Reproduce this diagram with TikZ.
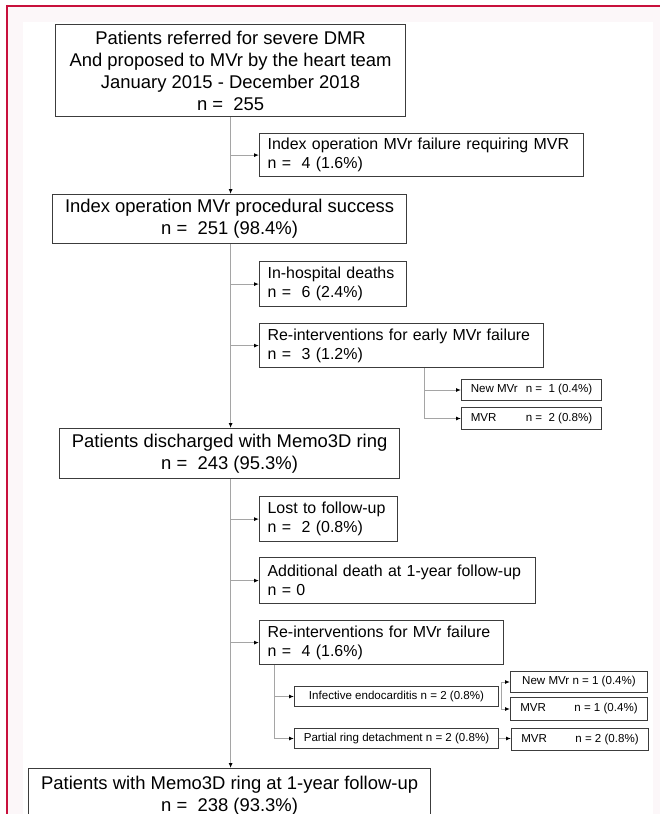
\documentclass[tikz,border=0pt]{standalone}
\usepackage{fontspec}
\setmainfont{Liberation Sans}
\usetikzlibrary{arrows.meta,calc}
\definecolor{framered}{RGB}{200,16,60}
\definecolor{bgpink}{RGB}{252,247,249}
\definecolor{boxgray}{RGB}{60,60,60}
\definecolor{linegray}{RGB}{165,165,165}
\begin{document}
\begin{tikzpicture}[x=1bp,y=-1bp,
  bigbox/.style={draw=boxgray, line width=1.2bp, anchor=north west, inner sep=0pt, align=center, font=\fontsize{18.5}{22}\selectfont},
  medbox/.style={draw=boxgray, line width=1.2bp, anchor=north west, inner xsep=8bp, inner ysep=0pt, align=left, font=\fontsize{16}{19}\selectfont},
  smallbox/.style={draw=boxgray, line width=1bp, anchor=north west, inner xsep=0pt, inner ysep=0pt, align=center, font=\fontsize{11.6}{14}\selectfont},
  conn/.style={draw=linegray, line width=1bp},
  arr/.style={conn, -{Latex[length=5bp,width=4bp,color=black]}}]
\useasboundingbox (0,0) rectangle (660,814);
\clip (0,0) rectangle (660,814);
% background and frame
\fill[white] (0,0) rectangle (660,814);
\fill[bgpink] (7,6) rectangle (660,814);
\fill[white] (23,22) rectangle (653,814);
\draw[framered, line width=2bp] (6.4,6) -- (660,6);
\draw[framered, line width=1.3bp] (7,5) -- (7,814);
% main boxes
\node[bigbox, minimum width=350bp, minimum height=92bp] (b1) at (55,24)
  {Patients referred for severe DMR\\And proposed to MVr by the heart team\\January 2015 - December 2018\\n =\ \ 255};
\node[medbox, minimum height=43bp, text width=308bp] (b2) at (259,133)
  {Index operation MVr failure requiring MVR\\n =\ \ 4 (1.6\%)};
\node[bigbox, minimum width=354bp, minimum height=49bp] (b3) at (52,194)
  {Index operation MVr procedural success\\n =\ \ 251 (98.4\%)};
\node[medbox, minimum height=45bp, text width=131bp] (b4) at (259,261)
  {In-hospital deaths\\n =\ \ 6 (2.4\%)};
\node[medbox, minimum height=44bp, text width=268bp] (b5) at (259,323)
  {Re-interventions for early MVr failure\\n =\ \ 3 (1.2\%)};
\node[smallbox, minimum width=140bp, minimum height=21bp] (nm1) at (461,379)
  {\makebox[55bp][l]{New MVr}n =\ \ 1 (0.4\%)};
\node[smallbox, minimum width=140bp, minimum height=22bp] (mvr1) at (461,407)
  {\makebox[55bp][l]{MVR}n =\ \ 2 (0.8\%)};
\node[bigbox, minimum width=340bp, minimum height=50bp] (b6) at (59,428)
  {Patients discharged with Memo3D ring\\n =\ \ 243 (95.3\%)};
\node[medbox, minimum height=45bp, text width=122bp] (b7) at (259,496)
  {Lost to follow-up\\n =\ \ 2 (0.8\%)};
\node[medbox, minimum height=46bp, text width=260bp] (b8) at (259,557)
  {Additional death at 1-year follow-up\\n = 0};
\node[medbox, minimum height=44bp, text width=228bp] (b9) at (259,620)
  {Re-interventions for MVr failure\\n =\ \ 4 (1.6\%)};
\node[smallbox, minimum width=204bp, minimum height=20bp] (inf) at (294,686)
  {Infective endocarditis n = 2 (0.8\%)};
\node[smallbox, minimum width=204bp, minimum height=20bp] (par) at (294,728)
  {Partial ring detachment n = 2 (0.8\%)};
\node[smallbox, minimum width=137bp, minimum height=21bp] (nm2) at (510,671)
  {New MVr n = 1 (0.4\%)};
\node[smallbox, minimum width=137bp, minimum height=23bp] (mvr2) at (510,697)
  {\makebox[54bp][l]{MVR}n = 1 (0.4\%)};
\node[smallbox, minimum width=137bp, minimum height=22bp] (mvr3) at (511,728)
  {\makebox[54bp][l]{MVR}n = 2 (0.8\%)};
\node[bigbox, minimum width=402bp, minimum height=54bp] (b10) at (28,768)
  {Patients with Memo3D ring at 1-year follow-up\\n =\ \ 238 (93.3\%)};
% trunk
\draw[arr] (b1.south) -- (b1.south |- b3.north);
\draw[arr] (b1.south |- b2.west) -- (b2.west);
\draw[arr] (b1.south |- b3.south) -- (b1.south |- b6.north);
\draw[arr] (b1.south |- b4.west) -- (b4.west);
\draw[arr] (b1.south |- b5.west) -- (b5.west);
\draw[arr] (b1.south |- b6.south) -- (b1.south |- b10.north);
\draw[arr] (b1.south |- b7.west) -- (b7.west);
\draw[arr] (b1.south |- b8.west) -- (b8.west);
\draw[arr] (b1.south |- b9.west) -- (b9.west);
% sub-branches
\coordinate (j5) at ($(b5.south west)+(165,0)$);
\draw[arr] (j5) |- (nm1.west);
\draw[arr] (j5) |- (mvr1.west);
\coordinate (j9) at ($(b9.south west)+(15,0)$);
\draw[arr] (j9) |- (inf.west);
\draw[arr] (j9) |- (par.west);
\coordinate (ji) at ($(inf.east)+(2,0)$);
\draw[conn] (ji |- nm2.west) -- (ji |- mvr2.west);
\draw[arr] (ji |- nm2.west) -- (nm2.west);
\draw[arr] (ji |- mvr2.west) -- (mvr2.west);
\draw[arr] (par.east) -- (par.east -| mvr3.west);
\end{tikzpicture}
\end{document}
